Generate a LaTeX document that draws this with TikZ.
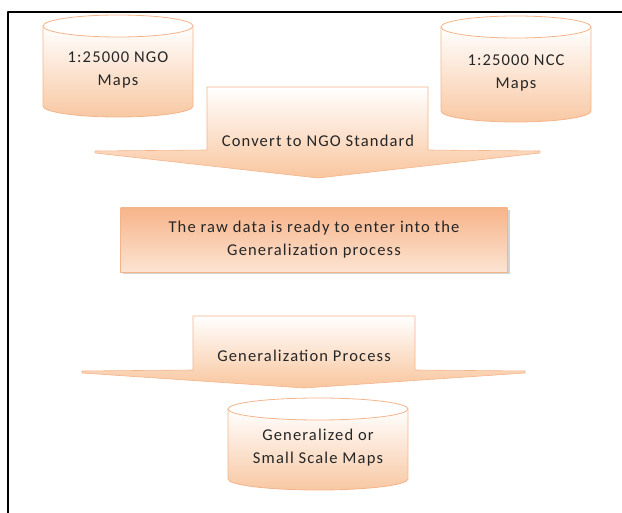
\documentclass[tikz,border=0pt]{standalone}
\usepackage{fontspec}
\setmainfont{Carlito}
\newfontfamily\lblfont[LetterSpace=7]{Carlito}
\usetikzlibrary{shadows}
\definecolor{edgeor}{RGB}{244,180,138}
\definecolor{bodyor}{RGB}{248,200,163}
\definecolor{boxtop}{RGB}{247,180,138}
\definecolor{boxbot}{RGB}{252,228,210}
\definecolor{wingor}{RGB}{249,198,158}
% cylinder: name, centre x, top y, half width, height, text
\newcommand{\mapcyl}[6]{%
  \begin{scope}[shift={(#2,#3)}]
    \shade[top color=white,bottom color=bodyor,draw=edgeor,line width=.8] (-#4,-11)--(-#4,-#5+11) arc[start angle=180,end angle=360,x radius=#4,y radius=11]--(#4,-11)--cycle;
    \draw[edgeor,fill=white,line width=.8] (0,-11) ellipse[x radius=#4,y radius=11];
    \node[lbl] (#1) at (0,-#5/2-4) {#6};
  \end{scope}}
\begin{document}
\begin{tikzpicture}[x=1pt,y=1pt,line join=round,
    lbl/.style={align=center,font=\lblfont\fontsize{16.5}{23}\selectfont,text=black!85},
    darrow/.style={top color=white,bottom color=wingor,draw=edgeor,line width=.6},
    rawbox/.style={lbl,draw=edgeor,top color=boxtop,bottom color=boxbot,minimum width=387,minimum height=64,drop shadow={opacity=.35}}]
  \useasboundingbox (0,0) rectangle (622,-513);
  \draw[line width=2] (8,-513)--(8,-12)--(622,-12);
  % sources
  \mapcyl{ngo}{118}{-15}{75}{102}{1:25000 NGO\\Maps}
  \mapcyl{ncc}{516}{-16}{75}{106}{1:25000 NCC\\Maps}
  % first block arrow
  \shade[darrow] (207,-87)--(207,-150)--(95,-151)--(95,-153)--(318,-178)--(540,-153)--(540,-151)--(428,-150)--(428,-87)--cycle;
  \node[lbl] (conv) at (318,-141) {Convert to NGO Standard};
  \node[rawbox] (raw) at (314,-240) {The raw data is ready to enter into the\\Generalization process};
  % second block arrow
  \shade[darrow] (193,-316)--(193,-370)--(82,-371)--(82,-373)--(304,-388)--(525,-373)--(525,-371)--(415,-370)--(415,-316)--cycle;
  \node[lbl] (gen) at (304,-356) {Generalization Process};
  % result
  \mapcyl{small}{318}{-398}{90}{92}{Generalized or\\Small Scale Maps}
\end{tikzpicture}
\end{document}
